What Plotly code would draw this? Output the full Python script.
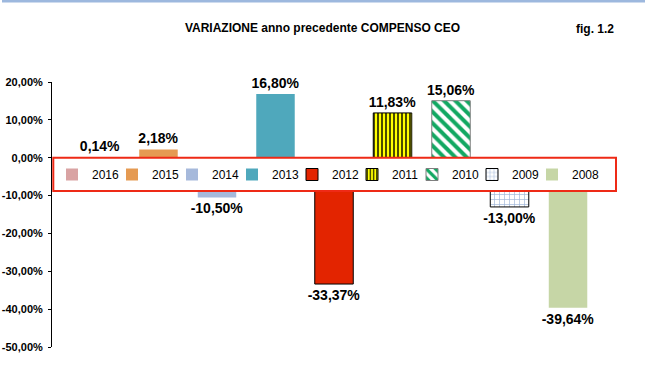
import plotly.graph_objects as go

years = ["2016", "2015", "2014", "2013", "2012", "2011", "2010", "2009", "2008"]
values = [0.14, 2.18, -10.50, 16.80, -33.37, 11.83, 15.06, -13.00, -39.64]
colors = ["#D9A3A3", "#E59A52", "#A6B9DB", "#4FA8BC", "#E32400", "#FFFF00", "#FFFFFF", "#FFFFFF", "#C6D6A6"]
line_colors = [None, None, None, None, "#000000", "#000000", "#7F7F7F", "#000000", None]
patterns = [None, None, None, None, None,
            dict(shape="|", fgcolor="#000000", bgcolor="#FFFF00", size=4, solidity=0.35, fgopacity=1),
            dict(shape="\\", fgcolor="#12A862", bgcolor="#FFFFFF", size=8, solidity=0.5, fgopacity=1),
            dict(shape="+", fgcolor="#9FB6D8", bgcolor="#FFFFFF", size=5, solidity=0.25, fgopacity=1),
            None]
tick_vals = [20, 10, 0, -10, -20, -30, -40, -50]
tick_text = ["20,00%", "10,00%", "0,00%", "-10,00%", "-20,00%", "-30,00%", "-40,00%", "-50,00%"]

FONT = "Liberation Sans, Arial, sans-serif"
NARROW = "Liberation Sans Narrow, Arial Narrow, Liberation Sans, sans-serif"

fig = go.Figure()
for i, (yr, v, c, lc, p) in enumerate(zip(years, values, colors, line_colors, patterns)):
    marker = dict(color=c)
    if lc:
        marker["line"] = dict(color=lc, width=1)
    else:
        marker["line"] = dict(width=0)
    if p:
        marker["pattern"] = p
    extra = {}
    if i == len(years) - 1:
        extra["legendwidth"] = 32
    fig.add_trace(go.Bar(
        x=[yr], y=[v], name=yr, width=0.658,
        marker=marker,
        text=[("%.2f" % v).replace(".", ",") + "%"],
        textposition="outside",
        constraintext="none",
        textfont=dict(family=FONT, size=14, color="#000000", weight="bold"),
        cliponaxis=False,
        hoverinfo="skip",
        **extra,
    ))

W, H = 651, 382
L, R, T, B = 52, 35, 82, 35
pw, ph = W - L - R, H - T - B

def px_x(px):
    return (px - L) / pw

def px_y(py):
    return 1 - (py - T) / ph

fig.update_layout(
    width=W, height=H,
    margin=dict(l=L, r=R, t=T, b=B, autoexpand=False),
    paper_bgcolor="white", plot_bgcolor="white",
    barmode="overlay",
    showlegend=True,
    font=dict(family=FONT, color="#000000"),
    title=dict(text="<b>VARIAZIONE anno precedente COMPENSO CEO</b>",
               font=dict(family=FONT, size=12, color="#000000"),
               x=322.5 / W, xanchor="center", y=1 - 27.5 / H, yanchor="middle",
               xref="container", yref="container"),
    legend=dict(orientation="h", x=px_x(52), xanchor="left", y=px_y(174.5), yanchor="middle",
                bgcolor="rgba(0,0,0,0)", borderwidth=0,
                font=dict(family=FONT, size=12, color="#000000"),
                entrywidth=15, entrywidthmode="pixels", traceorder="normal",
                itemclick=False, itemdoubleclick=False),
    xaxis=dict(type="category", range=[-0.82, 8.82], showticklabels=False, showline=False,
               ticks="", showgrid=False, zeroline=False, fixedrange=True, automargin=False),
    yaxis=dict(range=[-50, 20], tickvals=tick_vals, ticktext=tick_text, showline=True,
               linecolor="#000000", linewidth=1, ticks="outside", ticklen=3, tickcolor="#000000",
               ticklabelstandoff=3, automargin=False, fixedrange=True,
               showgrid=False, zeroline=False,
               tickfont=dict(family=FONT, size=11, color="#000000", weight="bold")),
    annotations=[dict(text="<b>fig. 1.2</b>", xref="paper", yref="paper",
                      x=px_x(595), y=px_y(29.5), xanchor="center", yanchor="middle",
                      showarrow=False, font=dict(family=NARROW, size=12, color="#000000"))],
    shapes=[
        dict(type="rect", xref="paper", yref="y", x0=px_x(53.3), x1=px_x(616), y0=0, y1=-8.8,
             line=dict(color="#EE2A16", width=2), fillcolor="white", layer="above"),
        dict(type="line", xref="paper", yref="paper", x0=px_x(2), x1=px_x(645),
             y0=px_y(1), y1=px_y(1), line=dict(color="#9DB8DE", width=3), layer="above"),
    ],
)

fig.write_html("out.html", config={"displayModeBar": False},
               post_script="document.body.style.margin='0px';")
